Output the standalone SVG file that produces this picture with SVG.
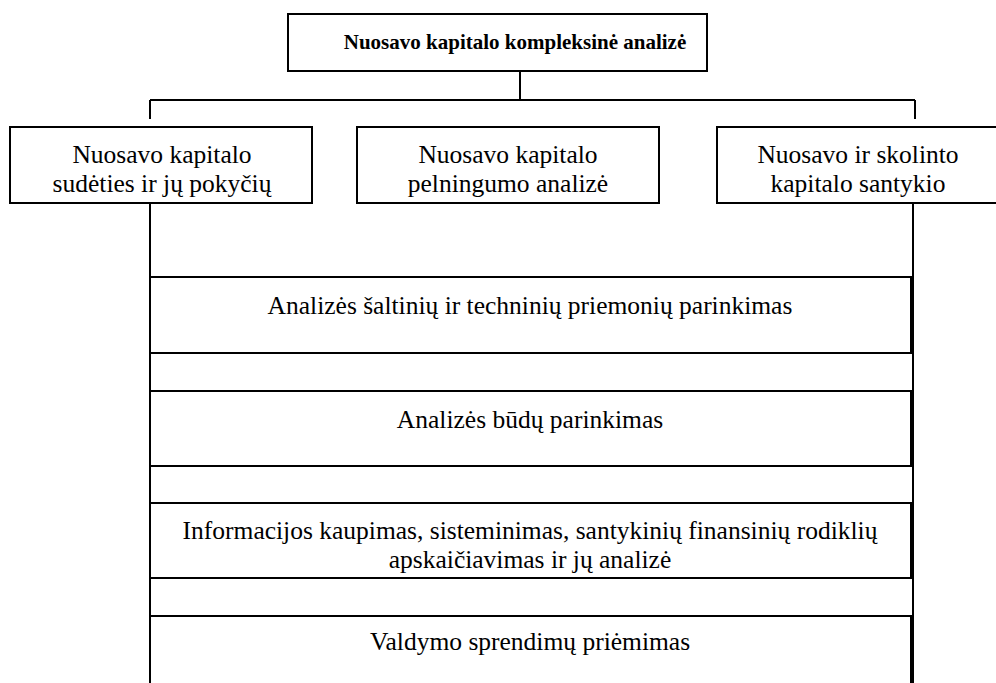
<svg xmlns="http://www.w3.org/2000/svg" width="996" height="683" viewBox="0 0 996 683">
<style>
.box{fill:#fff;stroke:#000;stroke-width:2}
.ln{stroke:#000;stroke-width:2;fill:none}
.t{font-family:"Liberation Serif","Times New Roman","DejaVu Serif",serif;font-size:25.5px;fill:#000;text-anchor:middle}
.b{font-weight:bold;font-size:21px}
</style>
<defs>
<clipPath id="cL"><rect x="10" y="127" width="302" height="70"/></clipPath>
<clipPath id="cM"><rect x="357" y="127" width="302" height="70"/></clipPath>
<clipPath id="cR"><rect x="717" y="127" width="290" height="70"/></clipPath>
<clipPath id="c3"><rect x="150" y="503" width="761" height="70"/></clipPath>
</defs>
<g id="connectors">
<path class="ln" d="M520 71V100M150 100H915M150 100V119M915 100V119"/>
<path class="ln" d="M150 203V683M913 203V683"/>
</g>
<g id="title">
<rect class="box" x="288" y="14" width="419" height="57"/>
<text class="t b" x="515" y="49">Nuosavo kapitalo kompleksinė analizė</text>
</g>
<g id="n1">
<rect class="box" x="10" y="127" width="302" height="76"/>
<g clip-path="url(#cL)"><text class="t" x="162" y="163">Nuosavo kapitalo</text><text class="t" x="162" y="192">sudėties ir jų pokyčių</text></g>
</g>
<g id="n2">
<rect class="box" x="357" y="127" width="302" height="76"/>
<g clip-path="url(#cM)"><text class="t" x="508" y="163">Nuosavo kapitalo</text><text class="t" x="508" y="192">pelningumo analizė</text></g>
</g>
<g id="n3">
<rect class="box" x="717" y="127" width="300" height="76"/>
<g clip-path="url(#cR)"><text class="t" x="858" y="163">Nuosavo ir skolinto</text><text class="t" x="858" y="192">kapitalo santykio</text></g>
</g>
<g id="s1">
<rect class="box" x="150" y="277" width="761" height="76"/>
<text class="t" x="530" y="314">Analizės šaltinių ir techninių priemonių parinkimas</text>
</g>
<g id="s2">
<rect class="box" x="150" y="391" width="761" height="75"/>
<text class="t" x="530" y="428">Analizės būdų parinkimas</text>
</g>
<g id="s3">
<rect class="box" x="150" y="503" width="761" height="75"/>
<g clip-path="url(#c3)"><text class="t" x="530" y="539">Informacijos kaupimas, sisteminimas, santykinių finansinių rodiklių</text><text class="t" x="530" y="568">apskaičiavimas ir jų analizė</text></g>
</g>
<g id="s4">
<rect class="box" x="150" y="616" width="761" height="80"/>
<text class="t" x="530" y="650">Valdymo sprendimų priėmimas</text>
</g>
</svg>
